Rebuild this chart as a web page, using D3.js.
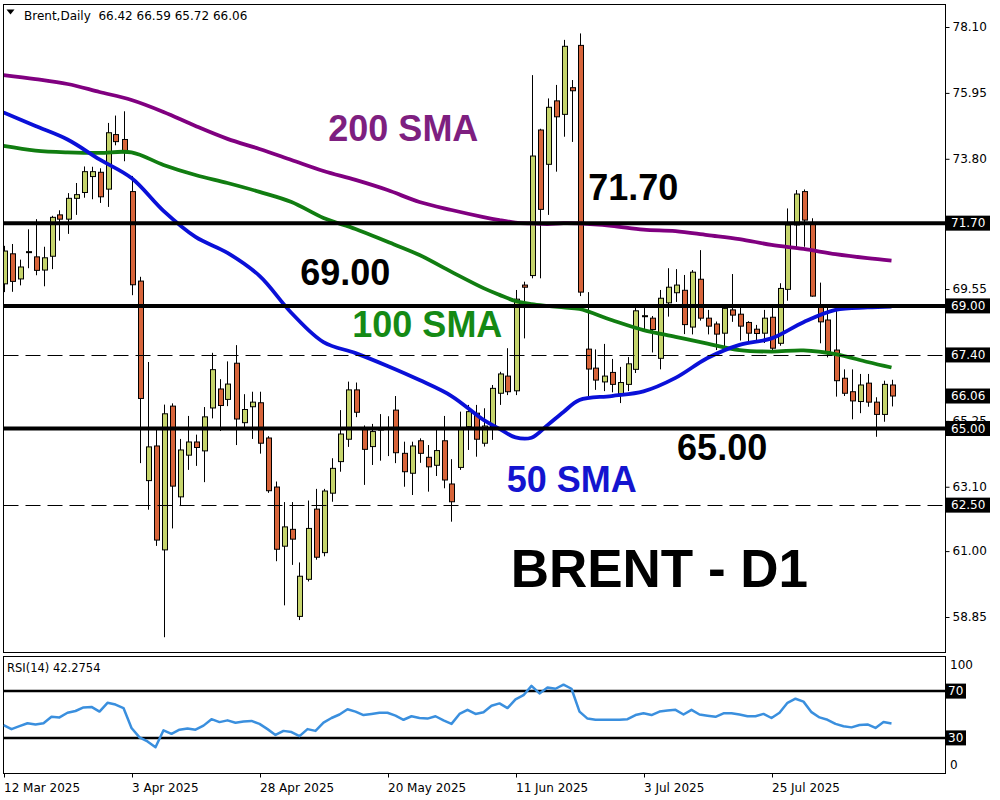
<!DOCTYPE html>
<html><head><meta charset="utf-8">
<script src="https://cdn.jsdelivr.net/npm/d3@7"></script>
<style>
body{margin:0;background:#fff;}
svg{display:block;font-family:"DejaVu Sans",sans-serif;}
</style>
</head><body>
<svg id="c" width="1000" height="800"></svg>
<script>
// ---------- DATA ----------
const opens  = [69.72,70.70,69.88,70.75,70.60,70.17,70.62,71.97,71.83,72.51,72.70,73.22,73.36,72.81,74.59,74.43,72.73,69.81,63.30,64.43,61.04,65.73,62.77,64.13,64.56,64.27,65.67,66.29,65.95,67.13,65.19,65.71,65.84,64.69,63.09,61.16,61.71,58.87,60.08,62.37,60.95,62.89,63.92,64.65,66.26,65.01,64.41,64.95,64.98,65.60,64.19,63.54,64.60,64.06,63.80,64.60,63.19,63.73,65.06,65.50,64.52,65.06,66.15,66.71,66.23,69.68,69.99,74.74,73.62,75.69,75.25,76.12,77.50,67.59,66.97,66.52,66.83,66.13,66.44,66.93,68.65,68.60,67.29,69.10,69.43,69.51,68.31,69.87,68.60,68.41,68.11,68.87,68.73,68.46,68.24,68.11,68.63,67.78,69.54,71.64,72.73,71.70,69.00,68.54,67.56,66.64,66.20,65.88,66.48,65.86,65.46,66.42];
const highs  = [70.96,71.02,70.51,71.50,71.83,70.93,71.94,72.12,72.68,73.01,73.55,73.54,73.49,74.97,75.21,75.35,73.24,69.95,67.17,64.97,65.78,65.82,64.66,65.41,64.80,65.70,67.47,66.61,67.19,67.72,66.12,66.20,66.20,64.75,63.27,62.60,62.60,60.63,62.65,63.03,63.03,64.03,65.60,66.53,66.50,65.10,65.15,65.47,65.40,66.06,64.57,64.57,64.68,64.46,65.01,65.41,64.00,65.55,65.77,65.77,65.66,66.42,66.85,67.62,69.52,69.79,76.53,74.78,75.77,76.21,77.68,76.37,77.89,69.45,67.58,67.76,67.27,67.01,67.33,69.00,68.93,68.67,69.52,70.23,70.20,70.01,70.17,70.82,68.87,68.49,68.95,70.04,68.97,68.50,68.38,68.87,68.96,69.74,72.18,72.78,72.80,71.86,69.76,69.03,69.03,66.93,66.93,66.78,66.78,66.02,66.56,66.59];
const lows   = [69.45,69.46,69.67,70.23,70.00,69.64,70.20,71.13,71.35,71.97,72.53,72.48,72.36,72.23,74.24,73.72,69.35,63.87,62.35,61.17,58.19,61.74,62.47,63.65,63.78,63.25,65.33,64.92,65.73,64.46,64.97,64.66,64.18,62.90,60.67,59.23,60.55,58.75,60.01,60.72,60.83,62.61,63.59,64.40,65.37,63.16,63.81,63.95,64.10,63.87,63.10,62.83,63.88,62.94,63.45,63.05,61.96,63.65,64.30,64.08,64.41,64.63,65.77,66.09,66.09,67.94,69.90,69.90,71.97,73.38,74.52,74.35,69.32,66.06,66.26,66.22,66.18,65.83,66.22,66.81,68.22,67.48,66.93,68.65,69.13,68.08,68.07,68.52,68.07,67.56,67.67,68.48,67.87,67.76,67.79,67.79,67.56,67.70,69.17,70.93,70.93,69.30,67.78,67.32,66.04,66.06,65.30,65.50,65.71,64.73,65.22,65.72];
const closes = [70.79,69.80,70.27,70.77,70.16,70.57,71.89,71.83,72.51,72.63,73.38,73.38,72.56,74.65,74.36,74.00,69.69,65.98,64.40,61.36,65.48,63.12,64.30,64.56,64.38,65.38,66.92,65.75,66.45,65.31,65.62,65.86,64.52,62.97,61.06,61.79,61.39,60.18,61.74,60.80,62.96,63.70,64.82,66.26,65.53,64.32,64.90,64.99,65.02,64.21,63.59,64.43,64.19,63.75,64.28,63.32,62.61,65.01,65.55,64.65,65.08,66.31,66.78,66.20,69.22,69.61,73.89,72.15,75.48,75.17,77.47,76.02,69.45,66.94,66.58,66.71,66.44,66.50,67.11,68.84,68.68,68.23,69.25,69.61,69.68,68.39,70.10,68.60,68.34,68.08,68.92,68.70,68.34,68.11,68.10,68.60,67.62,69.57,71.64,72.65,71.80,69.32,68.48,67.51,66.56,66.15,65.90,66.42,65.86,65.46,66.44,66.06];

// moving averages at these bar indexes
const smaIdx = [0,4,8,12,16,20,24,28,32,36,40,44,48,52,56,60,62,64,66,68,70,72,76,80,84,88,92,96,100,104,108,111];
const sma200 = [76.53,76.40,76.24,75.98,75.72,75.33,74.87,74.45,74.12,73.76,73.40,73.11,72.78,72.39,72.13,71.90,71.80,71.72,71.69,71.67,71.70,71.69,71.61,71.49,71.44,71.31,71.18,70.99,70.86,70.69,70.56,70.48];
const sma100 = [74.22,74.07,74.01,73.99,74.01,73.60,73.27,73.01,72.72,72.39,71.87,71.51,71.09,70.66,70.11,69.58,69.36,69.16,69.06,69.00,68.95,68.90,68.54,68.21,67.99,67.77,67.56,67.51,67.55,67.43,67.17,66.99];
const sma50  = [75.31,74.87,74.43,73.78,73.17,72.10,71.25,70.73,69.98,68.77,67.82,67.46,67.04,66.58,66.06,65.28,64.99,64.71,64.70,65.11,65.54,65.93,66.06,66.21,66.65,67.30,67.73,67.94,68.47,68.87,68.95,68.98];

const rsi = [41,37.5,40,42.5,41.5,42.5,48,47.5,51.5,53,56,56.5,52.5,60,58.5,55.5,38.5,30.5,27,22,36.5,33.5,37,38,37,40.5,46,43.5,45,43,44,44.5,42,37.5,32.5,36,35,31.5,37.5,36,43,47,50,54.5,52.5,49.5,50.5,51.5,51.5,49,45.5,48.5,47,46.5,48.5,45,42,50.5,54,50.5,52,57.5,59.5,55.5,63,66.5,74.5,68,73,72,75.5,72,52.5,46.5,45.5,45.5,45.5,45.5,46,49.5,51,49.5,52.5,53.5,54,50,54,50,49,48,51,51,50,48.5,48.5,50.5,47,51.5,60,63.5,61,52,47.5,45.5,42,40,39,41,41.5,38.5,43.5,42.2754];

const solidLevels = [71.70, 69.00, 65.00];
const dashedLevels = [67.40, 62.50];
const tagLevels = [71.70, 69.00, 67.40, 66.06, 65.00, 62.50];
const priceTicks = [78.10, 75.95, 73.80, 69.55, 65.25, 63.10, 61.00, 58.85];
const rsiLevels = [70, 30];
const dateTickIdx = [0,16,32,48,64,80,96];
const annotations = [
  {t:"200 SMA", p:74.38, i:40.6, c:"#7e1f80"},
  {t:"71.70",   p:72.46, i:73.1, c:"#000"},
  {t:"69.00",   p:69.68, i:37.1, c:"#000"},
  {t:"100 SMA", p:67.99, i:43.6, c:"#158a15"},
  {t:"65.00",   p:63.97, i:84.2, c:"#000"},
  {t:"50 SMA",  p:62.93, i:62.9, c:"#1414cf"}
];

// trading calendar (weekdays, Good Friday closed)
const holidays = new Set(["2025-04-18"]);
const dates = [];
{
  let d = new Date(Date.UTC(2025,2,12));
  while (dates.length < closes.length) {
    const wd = d.getUTCDay();
    const key = d.toISOString().slice(0,10);
    if (wd !== 0 && wd !== 6 && !holidays.has(key)) dates.push(new Date(d));
    d.setUTCDate(d.getUTCDate()+1);
  }
}
const fmtDate = d3.utcFormat("%-d %b %Y");

// ---------- LAYOUT ----------
const svg = d3.select("#c");
const L = 3.5, R = 945.5, mainTop = 4.5, mainBot = 652.5, rsiTop = 656.5, rsiBot = 773.5;
const boldFont = "'Liberation Sans',Arial,sans-serif";

const x = d3.scaleLinear().domain([0, 111]).range([3.5, 891.5]);
const y = d3.scaleLinear().domain([78.10, 58.85]).range([27, 617]);
const yr = d3.scaleLinear().domain([0, 100]).range([773, 656]);

svg.append("rect").attr("width",1000).attr("height",800).attr("fill","#fff");

const defs = svg.append("defs");
defs.append("clipPath").attr("id","mainClip").append("rect")
  .attr("x",L).attr("y",mainTop).attr("width",R-L).attr("height",mainBot-mainTop);
defs.append("clipPath").attr("id","rsiClip").append("rect")
  .attr("x",L).attr("y",rsiTop).attr("width",R-L).attr("height",rsiBot-rsiTop);

const main = svg.append("g").attr("clip-path","url(#mainClip)");

// candles
const idx = d3.range(closes.length);
const green = "#c5d46c", red = "#d7643a";
const cg = main.append("g");
cg.selectAll("line.wick").data(idx).join("line")
  .attr("x1",i=>Math.round(x(i))+0.5).attr("x2",i=>Math.round(x(i))+0.5)
  .attr("y1",i=>y(highs[i])).attr("y2",i=>y(lows[i]))
  .attr("stroke","#000").attr("stroke-width",1);
cg.selectAll("rect.body").data(idx).join("rect")
  .attr("x",i=>Math.round(x(i))-2+0.5)
  .attr("width",5)
  .attr("y",i=>Math.min(y(opens[i]),y(closes[i])))
  .attr("height",i=>Math.max(1,Math.abs(y(opens[i])-y(closes[i]))))
  .attr("fill",i=>closes[i]>=opens[i]?green:red)
  .attr("stroke","#000").attr("stroke-width",1);

// moving averages
const smaLine = arr => d3.line().x((d,k)=>x(smaIdx[k])).y(d=>y(d)).curve(d3.curveCatmullRom.alpha(0.5))(arr);
main.append("path").attr("d",smaLine(sma200)).attr("fill","none").attr("stroke","#800080").attr("stroke-width",3.8);
main.append("path").attr("d",smaLine(sma100)).attr("fill","none").attr("stroke","#117d11").attr("stroke-width",3.8);
main.append("path").attr("d",smaLine(sma50)).attr("fill","none").attr("stroke","#0a10d8").attr("stroke-width",3.8);

// level lines
main.selectAll("line.solid").data(solidLevels).join("line")
  .attr("x1",L).attr("x2",R).attr("y1",d=>y(d)).attr("y2",d=>y(d))
  .attr("stroke","#000").attr("stroke-width",4);
main.selectAll("line.dash").data(dashedLevels).join("line")
  .attr("x1",L).attr("x2",R).attr("y1",d=>Math.round(y(d))+0.5).attr("y2",d=>Math.round(y(d))+0.5)
  .attr("stroke","#000").attr("stroke-width",1).attr("stroke-dasharray","15,7");

// annotations
main.selectAll("text.ann").data(annotations).join("text")
  .attr("x",d=>x(d.i)).attr("y",d=>y(d.p))
  .attr("fill",d=>d.c).attr("font-family",boldFont)
  .attr("font-weight","bold").attr("font-size",36).text(d=>d.t);
main.append("text").attr("x",x(63.4)).attr("y",y(59.83))
  .attr("font-family",boldFont).attr("font-weight","bold")
  .attr("font-size",53).attr("fill","#000").text("BRENT - D1");

// header
svg.append("path").attr("d","M6.5,9.5 L14.5,9.5 L10.5,14.5 Z").attr("fill","#000");
svg.append("text").attr("x",24).attr("y",20).attr("font-size",12).attr("fill","#000")
  .attr("xml:space","preserve").style("white-space","pre")
  .text("Brent,Daily  66.42 66.59 65.72 66.06");

// frames
svg.append("rect").attr("x",L).attr("y",mainTop).attr("width",R-L).attr("height",mainBot-mainTop)
  .attr("fill","none").attr("stroke","#000").attr("stroke-width",1);
svg.append("rect").attr("x",L).attr("y",rsiTop).attr("width",R-L).attr("height",rsiBot-rsiTop)
  .attr("fill","none").attr("stroke","#000").attr("stroke-width",1);

// price axis
const pa = svg.append("g").attr("transform",`translate(${R},0)`)
  .call(d3.axisRight(y).tickValues(priceTicks).tickSize(4).tickPadding(3).tickFormat(d3.format(".2f")));
pa.select(".domain").remove();
pa.selectAll("text").attr("font-size",12).attr("font-family","'DejaVu Sans',sans-serif").attr("fill","#000");
pa.selectAll("line").attr("stroke","#000");

// price tags
const tags = svg.append("g");
tags.selectAll("rect").data(tagLevels).join("rect")
  .attr("x",946).attr("y",d=>y(d)-7.5).attr("width",44).attr("height",15).attr("fill","#000");
tags.selectAll("text").data(tagLevels).join("text")
  .attr("x",951).attr("y",d=>y(d)).attr("dy","0.36em").attr("font-size",12).attr("fill","#fff")
  .text(d=>d3.format(".2f")(d));

// RSI panel
const rg = svg.append("g").attr("clip-path","url(#rsiClip)");
rg.selectAll("line.lvl").data(rsiLevels).join("line")
  .attr("x1",L).attr("x2",R).attr("y1",d=>yr(d)).attr("y2",d=>yr(d))
  .attr("stroke","#000").attr("stroke-width",2.5);
rg.append("path").datum(rsi)
  .attr("d",d3.line().x((d,i)=>x(i)).y(d=>yr(d)))
  .attr("fill","none").attr("stroke","#3a8fde").attr("stroke-width",2.5).attr("stroke-linejoin","round");
svg.append("text").attr("x",7).attr("y",672).attr("font-size",11.5).attr("fill","#000").text("RSI(14) 42.2754");

// RSI scale
svg.append("text").attr("x",950).attr("y",yr(100)+13).attr("font-size",12).text("100");
svg.append("text").attr("x",950).attr("y",yr(0)-4).attr("font-size",12).text("0");
svg.selectAll("rect.rtag").data(rsiLevels).join("rect").attr("class","rtag")
  .attr("x",946).attr("y",d=>yr(d)-7.5).attr("width",20).attr("height",15).attr("fill","#000");
svg.selectAll("text.rtag").data(rsiLevels).join("text").attr("class","rtag")
  .attr("x",948).attr("y",d=>yr(d)).attr("dy","0.36em").attr("font-size",12).attr("fill","#fff").text(d=>d);

// time axis
const ta = svg.append("g").attr("transform",`translate(0,${rsiBot})`)
  .call(d3.axisBottom(x).tickValues(dateTickIdx).tickSize(4).tickPadding(6).tickFormat(i=>fmtDate(dates[i])));
ta.select(".domain").remove();
ta.selectAll("line").attr("stroke","#000").attr("transform","translate(0.5,0)");
ta.selectAll("text").attr("text-anchor","start").attr("font-size",12).attr("font-family","'DejaVu Sans',sans-serif").attr("fill","#000");
</script>
</body></html>
